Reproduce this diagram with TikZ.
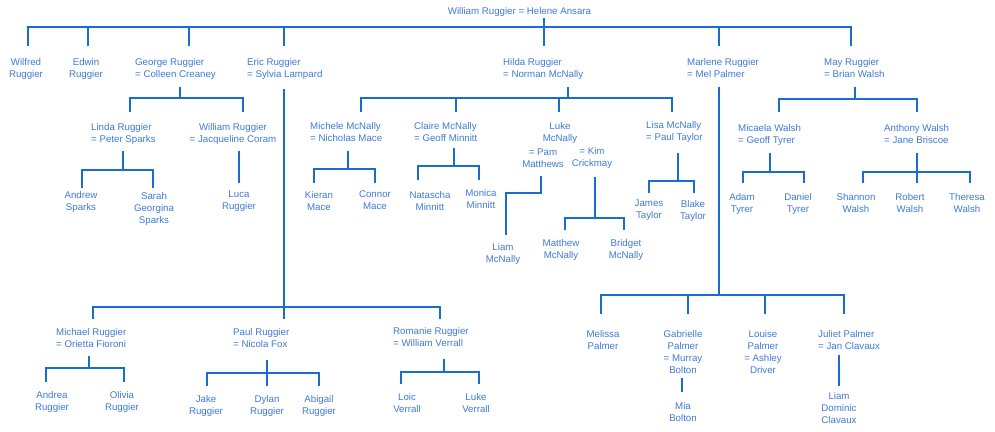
\documentclass[tikz,border=0pt]{standalone}
\usepackage{fontspec}
\setmainfont{Liberation Sans}
\definecolor{linkblue}{HTML}{1A6DD0}
\definecolor{nameblue}{HTML}{3F7BD6}
\newcommand\personsize{\fontsize{9.7}{12}\selectfont}
\begin{document}
\begin{tikzpicture}[x=1pt,y=-1pt,
  person/.style={font=\personsize, text=nameblue, inner sep=0pt, align=center, anchor=north},
  couple/.style={person, align=left, anchor=north west},
  link/.style={draw=linkblue, line width=1.7pt}]
\useasboundingbox[fill=white] (0,0) rectangle (995,431);

% ---------- names ----------
\node[person] (root) at (519.5,7) {William Ruggier = Helene Ansara};

\node[person] (wilfred) at (26,58) {Wilfred\\Ruggier};
\node[person] (edwin) at (86,58) {Edwin\\Ruggier};
\node[couple] (george) at (135,58) {George Ruggier\\= Colleen Creaney};
\node[couple] (eric) at (247,58) {Eric Ruggier\\= Sylvia Lampard};
\node[couple] (hilda) at (503,58) {Hilda Ruggier\\= Norman McNally};
\node[couple] (marlene) at (687,58) {Marlene Ruggier\\= Mel Palmer};
\node[couple] (may) at (824,58) {May Ruggier\\= Brian Walsh};

\node[couple] (linda) at (91,123) {Linda Ruggier\\= Peter Sparks};
\node[person] (williamr) at (233,123) {William Ruggier\\= Jacqueline Coram};
\node[person] (andrew) at (81,191) {Andrew\\Sparks};
\node[person] (sarah) at (154,192) {Sarah\\Georgina\\Sparks};
\node[person] (luca) at (239,191) {Luca\\Ruggier};

\node[couple] (michele) at (310,122) {Michele McNally\\= Nicholas Mace};
\node[couple] (claire) at (414,122) {Claire McNally\\= Geoff Minnitt};
\node[person] (luke) at (560,122) {Luke\\McNally};
\node[person] (pam) at (543,149) {= Pam\\Matthews};
\node[person] (kim) at (592,147) {= Kim\\Crickmay};
\node[couple] (lisa) at (646,121) {Lisa McNally\\= Paul Taylor};
\node[person] (kieran) at (319,191) {Kieran\\Mace};
\node[person] (connor) at (375,191) {Connor\\Mace};
\node[person] (natascha) at (430,191) {Natascha\\Minnitt};
\node[person] (monica) at (481,189) {Monica\\Minnitt};
\node[person] (liam) at (503,243) {Liam\\McNally};
\node[person] (matthew) at (561,239) {Matthew\\McNally};
\node[person] (bridget) at (626,239) {Bridget\\McNally};
\node[person] (james) at (649,200) {James\\Taylor};
\node[person] (blake) at (693,200) {Blake\\Taylor};

\node[couple] (micaela) at (738,124) {Micaela Walsh\\= Geoff Tyrer};
\node[couple] (anthony) at (884,124) {Anthony Walsh\\= Jane Briscoe};
\node[person] (adam) at (742,193) {Adam\\Tyrer};
\node[person] (daniel) at (798,193) {Daniel\\Tyrer};
\node[person] (shannon) at (856,193) {Shannon\\Walsh};
\node[person] (robert) at (910,193) {Robert\\Walsh};
\node[person] (theresa) at (967,193) {Theresa\\Walsh};

\node[couple] (michael) at (56,328) {Michael Ruggier\\= Orietta Fioroni};
\node[couple] (paul) at (233,328) {Paul Ruggier\\= Nicola Fox};
\node[couple] (romanie) at (393,327) {Romanie Ruggier\\= William Verrall};
\node[person] (andrea) at (52,391) {Andrea\\Ruggier};
\node[person] (olivia) at (122,391) {Olivia\\Ruggier};
\node[person] (jake) at (206,395) {Jake\\Ruggier};
\node[person] (dylan) at (267,395) {Dylan\\Ruggier};
\node[person] (abigail) at (319,395) {Abigail\\Ruggier};
\node[person] (loic) at (407,393) {Loic\\Verrall};
\node[person] (lukev) at (476,393) {Luke\\Verrall};

\node[person] (melissa) at (603,330) {Melissa\\Palmer};
\node[person] (gabrielle) at (683,330) {Gabrielle\\Palmer\\= Murray\\Bolton};
\node[person] (louise) at (763,330) {Louise\\Palmer\\= Ashley\\Driver};
\node[couple] (juliet) at (818,330) {Juliet Palmer\\= Jan Clavaux};
\node[person] (mia) at (683,402) {Mia\\Bolton};
\node[person] (liamc) at (839,392) {Liam\\Dominic\\Clavaux};

% ---------- connector ends and junctions ----------
\coordinate (rootS) at (544,18);   \coordinate (rootJ) at (544,27);
\coordinate (wilfredN) at (28,46); \coordinate (edwinN) at (88,46);
\coordinate (georgeN) at (189,46); \coordinate (ericN) at (284,46);
\coordinate (hildaN) at (544,46);  \coordinate (marleneN) at (719,46);
\coordinate (mayN) at (851,46);

\coordinate (georgeS) at (180,87); \coordinate (georgeJ) at (180,98);
\coordinate (lindaN) at (130,112); \coordinate (williamrN) at (243,112);
\coordinate (lindaS) at (123,151); \coordinate (lindaJ) at (123,170);
\coordinate (andrewN) at (82,188); \coordinate (sarahN) at (153,188);
\coordinate (williamrS) at (239,151); \coordinate (lucaN) at (239,183);

\coordinate (ericS) at (284,89);   \coordinate (ericJ) at (284,307);
\coordinate (michaelN) at (93,319); \coordinate (paulN) at (284,319);
\coordinate (romanieN) at (440,319);
\coordinate (michaelS) at (89,356); \coordinate (michaelJ) at (89,368);
\coordinate (andreaN) at (46,382); \coordinate (oliviaN) at (124,382);
\coordinate (paulS) at (267,360);  \coordinate (paulJ) at (267,373);
\coordinate (jakeN) at (207,386);  \coordinate (dylanN) at (267,386);
\coordinate (abigailN) at (319,386);
\coordinate (romanieS) at (444,359); \coordinate (romanieJ) at (444,372);
\coordinate (loicN) at (401,384);  \coordinate (lukevN) at (479,384);

\coordinate (hildaS) at (568,87);  \coordinate (hildaJ) at (568,98);
\coordinate (micheleN) at (361,112); \coordinate (claireN) at (456,112);
\coordinate (lukeN) at (559,112);  \coordinate (lisaN) at (672,112);
\coordinate (micheleS) at (348,151); \coordinate (micheleJ) at (348,169);
\coordinate (kieranN) at (314,183); \coordinate (connorN) at (375,183);
\coordinate (claireS) at (454,148); \coordinate (claireJ) at (454,166);
\coordinate (nataschaN) at (418,180);
\coordinate (monicaN) at (479,180);
\coordinate (pamS) at (541,176);   \coordinate (liamJ) at (506,193);
\coordinate (liamN) at (506,235);
\coordinate (kimS) at (595,177);   \coordinate (kimJ) at (595,218);
\coordinate (matthewN) at (565,230); \coordinate (bridgetN) at (624,230);
\coordinate (lisaS) at (678,153);  \coordinate (lisaJ) at (678,181);
\coordinate (jamesN) at (649,193); \coordinate (blakeN) at (694,193);

\coordinate (marleneS) at (719,87); \coordinate (marleneJ) at (719,295);
\coordinate (melissaN) at (601,314); \coordinate (gabrielleN) at (688,314);
\coordinate (louiseN) at (765,314); \coordinate (julietN) at (844,314);
\coordinate (gabrielleS) at (682,378); \coordinate (miaN) at (682,392);
\coordinate (julietS) at (839,355); \coordinate (liamcN) at (839,386);

\coordinate (mayS) at (855,87);    \coordinate (mayJ) at (855,99);
\coordinate (micaelaN) at (779,112); \coordinate (anthonyN) at (917,112);
\coordinate (micaelaS) at (770,153); \coordinate (micaelaJ) at (770,172);
\coordinate (adamN) at (743,183);  \coordinate (danielN) at (804,183);
\coordinate (anthonyS) at (917,153); \coordinate (anthonyJ) at (917,172);
\coordinate (shannonN) at (863,183); \coordinate (robertN) at (917,183);
\coordinate (theresaN) at (970,183);

% ---------- connectors ----------
% William & Helene
\draw[link] (rootS) -- (hildaN);
\draw[link] (wilfredN) |- (rootJ) -| (mayN);
\foreach \c in {edwinN,georgeN,ericN,marleneN}
  \draw[link] (\c) -- (\c |- rootJ);

% George
\draw[link] (georgeS) -- (georgeJ);
\draw[link] (lindaN) |- (georgeJ) -| (williamrN);
\draw[link] (lindaS) -- (lindaJ);
\draw[link] (andrewN) |- (lindaJ) -| (sarahN);
\draw[link] (williamrS) -- (lucaN);

% Eric
\draw[link] (ericS) -- (paulN);
\draw[link] (michaelN) |- (ericJ) -| (romanieN);
\draw[link] (michaelS) -- (michaelJ);
\draw[link] (andreaN) |- (michaelJ) -| (oliviaN);
\draw[link] (paulS) -- (dylanN);
\draw[link] (jakeN) |- (paulJ) -| (abigailN);
\draw[link] (romanieS) -- (romanieJ);
\draw[link] (loicN) |- (romanieJ) -| (lukevN);

% Hilda
\draw[link] (hildaS) -- (hildaJ);
\draw[link] (micheleN) |- (hildaJ) -| (lisaN);
\foreach \c in {claireN,lukeN}
  \draw[link] (\c) -- (\c |- hildaJ);
\draw[link] (micheleS) -- (micheleJ);
\draw[link] (kieranN) |- (micheleJ) -| (connorN);
\draw[link] (claireS) -- (claireJ);
\draw[link] (nataschaN) |- (claireJ) -| (monicaN);
\draw[link] (pamS) |- (liamJ) -- (liamN);
\draw[link] (kimS) -- (kimJ);
\draw[link] (matthewN) |- (kimJ) -| (bridgetN);
\draw[link] (lisaS) -- (lisaJ);
\draw[link] (jamesN) |- (lisaJ) -| (blakeN);

% Marlene
\draw[link] (marleneS) -- (marleneJ);
\draw[link] (melissaN) |- (marleneJ) -| (julietN);
\foreach \c in {gabrielleN,louiseN}
  \draw[link] (\c) -- (\c |- marleneJ);
\draw[link] (gabrielleS) -- (miaN);
\draw[link] (julietS) -- (liamcN);

% May
\draw[link] (mayS) -- (mayJ);
\draw[link] (micaelaN) |- (mayJ) -| (anthonyN);
\draw[link] (micaelaS) -- (micaelaJ);
\draw[link] (adamN) |- (micaelaJ) -| (danielN);
\draw[link] (anthonyS) -- (robertN);
\draw[link] (shannonN) |- (anthonyJ) -| (theresaN);
\end{tikzpicture}
\end{document}
